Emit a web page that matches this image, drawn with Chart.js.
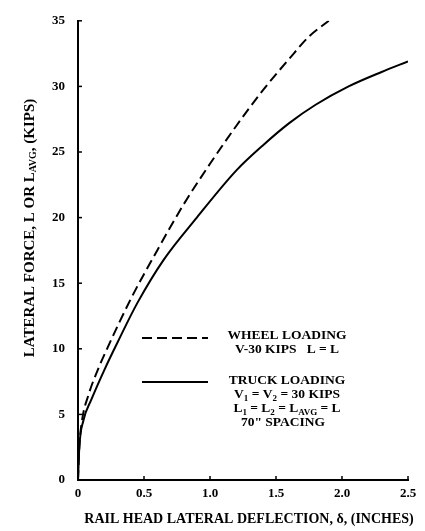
<!DOCTYPE html>
<html>
<head>
<meta charset="utf-8">
<script src="https://cdn.jsdelivr.net/npm/chart.js@4"></script>
<style>
  html, body { margin: 0; padding: 0; background: #fff; }
  #wrap { width: 425px; height: 531px; position: relative; }
</style>
</head>
<body>
<div id="wrap"><canvas id="deflChart"></canvas></div>
<script>
const wheelX = [0, 0.01, 0.03, 0.08, 0.15, 0.22, 0.4, 0.6, 0.8, 1.0, 1.2, 1.4, 1.6, 1.75, 1.9];
const wheelY = [0, 2.5, 4.5, 6.5, 8.4, 10.0, 13.8, 17.5, 21.0, 24.1, 27.0, 29.7, 32.1, 33.8, 35];
const truckX = [0, 0.01, 0.04, 0.1, 0.2, 0.3, 0.45, 0.65, 0.9, 1.2, 1.4, 1.6, 1.8, 2.05, 2.3, 2.5];
const truckY = [0, 2.5, 4.5, 6.1, 8.4, 10.5, 13.5, 16.8, 20.0, 23.6, 25.5, 27.2, 28.6, 30.0, 31.1, 31.9];
const xTicks = [0, 0.5, 1.0, 1.5, 2.0, 2.5];
const yTicks = [0, 5, 10, 15, 20, 25, 30, 35];

const FONT = '"Liberation Serif", "DejaVu Serif", serif';
const DASH = [10, 5];

function toPoints(xs, ys) {
    return xs.map((x, i) => ({ x: x, y: ys[i] }));
}

// draws a run of [text, isSubscript] pieces starting at x (left aligned)
function drawRuns(ctx, runs, x, y, size) {
    let cx = x;
    runs.forEach(([txt, sub]) => {
        ctx.font = 'bold ' + (sub ? Math.round(size * 0.65) : size) + 'px ' + FONT;
        ctx.fillText(txt, cx, sub ? y + size * 0.25 : y);
        cx += ctx.measureText(txt).width;
    });
}

function runsWidth(ctx, runs, size) {
    let w = 0;
    runs.forEach(([txt, sub]) => {
        ctx.font = 'bold ' + (sub ? Math.round(size * 0.65) : size) + 'px ' + FONT;
        w += ctx.measureText(txt).width;
    });
    return w;
}

function drawCentered(ctx, runs, cx, y, size) {
    drawRuns(ctx, runs, cx - runsWidth(ctx, runs, size) / 2, y, size);
}

const decorPlugin = {
    id: 'decor',
    afterDraw(chart) {
        const ctx = chart.ctx;
        const xs = chart.scales.x, ys = chart.scales.y;
        ctx.save();
        ctx.strokeStyle = '#000';
        ctx.fillStyle = '#000';

        // short inward ticks
        ctx.lineWidth = 1.5;
        yTicks.forEach(v => {
            const py = ys.getPixelForValue(v);
            ctx.beginPath();
            ctx.moveTo(xs.left, py);
            ctx.lineTo(xs.left + 4, py);
            ctx.stroke();
        });
        xTicks.forEach(v => {
            const px = xs.getPixelForValue(v);
            ctx.beginPath();
            ctx.moveTo(px, ys.bottom);
            ctx.lineTo(px, ys.bottom - 4);
            ctx.stroke();
        });

        // y axis title, rotated, with subscript
        const yTitle = [['LATERAL FORCE, L OR L', false], ['AVG', true], [', (KIPS)', false]];
        ctx.save();
        ctx.translate(30, 228);
        ctx.rotate(-Math.PI / 2);
        ctx.textBaseline = 'middle';
        drawCentered(ctx, yTitle, 0, 0, 15);
        ctx.restore();

        // x axis title
        ctx.textBaseline = 'middle';
        drawCentered(ctx, [['RAIL HEAD LATERAL DEFLECTION, δ, (INCHES)', false]], 249, 519, 14);

        // legend
        ctx.lineWidth = 2;
        ctx.setLineDash(DASH);
        ctx.beginPath();
        ctx.moveTo(142, 338);
        ctx.lineTo(208, 338);
        ctx.stroke();
        ctx.setLineDash([]);
        ctx.beginPath();
        ctx.moveTo(142, 382);
        ctx.lineTo(208, 382);
        ctx.stroke();

        const cx = 287;
        drawCentered(ctx, [['WHEEL LOADING', false]], cx, 336, 13.5);
        drawCentered(ctx, [['V-30 KIPS   L = L', false]], cx, 350, 13.5);
        drawCentered(ctx, [['TRUCK LOADING', false]], cx, 381, 13.5);
        drawCentered(ctx, [['V', false], ['1', true], [' = V', false], ['2', true], [' = 30 KIPS', false]], cx, 395, 13.5);
        drawCentered(ctx, [['L', false], ['1', true], [' = L', false], ['2', true], [' = L', false], ['AVG', true], [' = L', false]], cx, 409, 13.5);
        drawCentered(ctx, [['70" SPACING', false]], cx - 4, 423, 13.5);
        ctx.restore();
    }
};

const ctx = document.getElementById('deflChart').getContext('2d');
const deflChart = new Chart(ctx, {
    type: 'line',
    data: {
        datasets: [{
            label: 'WHEEL LOADING',
            data: toPoints(wheelX, wheelY),
            borderColor: '#000',
            borderWidth: 2,
            borderDash: DASH,
            pointRadius: 0,
            cubicInterpolationMode: 'monotone',
            fill: false
        }, {
            label: 'TRUCK LOADING',
            data: toPoints(truckX, truckY),
            borderColor: '#000',
            borderWidth: 2,
            pointRadius: 0,
            cubicInterpolationMode: 'monotone',
            fill: false
        }]
    },
    options: {
        responsive: true,
        maintainAspectRatio: false,
        animation: false,
        layout: {
            padding: { top: 13, right: 17, left: 0, bottom: 0 }
        },
        plugins: {
            legend: { display: false },
            tooltip: { enabled: false }
        },
        scales: {
            x: {
                type: 'linear',
                min: 0,
                max: 2.5,
                afterBuildTicks: (scale) => {
                    scale.ticks = xTicks.map(v => ({ value: v }));
                },
                afterFit: (scale) => { scale.height = 51; },
                grid: { display: true, drawOnChartArea: false, drawTicks: false },
                border: { display: true, color: '#000', width: 2 },
                ticks: {
                    color: '#000',
                    padding: 6,
                    font: { family: FONT, size: 13, weight: 'bold' },
                    callback: (v) => v === 0 ? '0' : v.toFixed(1)
                }
            },
            y: {
                type: 'linear',
                min: 0,
                max: 35,
                afterBuildTicks: (scale) => {
                    scale.ticks = yTicks.map(v => ({ value: v }));
                },
                afterFit: (scale) => { scale.width = 78; },
                grid: { display: true, drawOnChartArea: false, drawTicks: false },
                border: { display: true, color: '#000', width: 2 },
                ticks: {
                    color: '#000',
                    padding: 13,
                    font: { family: FONT, size: 13, weight: 'bold' }
                }
            }
        }
    },
    plugins: [decorPlugin]
});
</script>
</body>
</html>
